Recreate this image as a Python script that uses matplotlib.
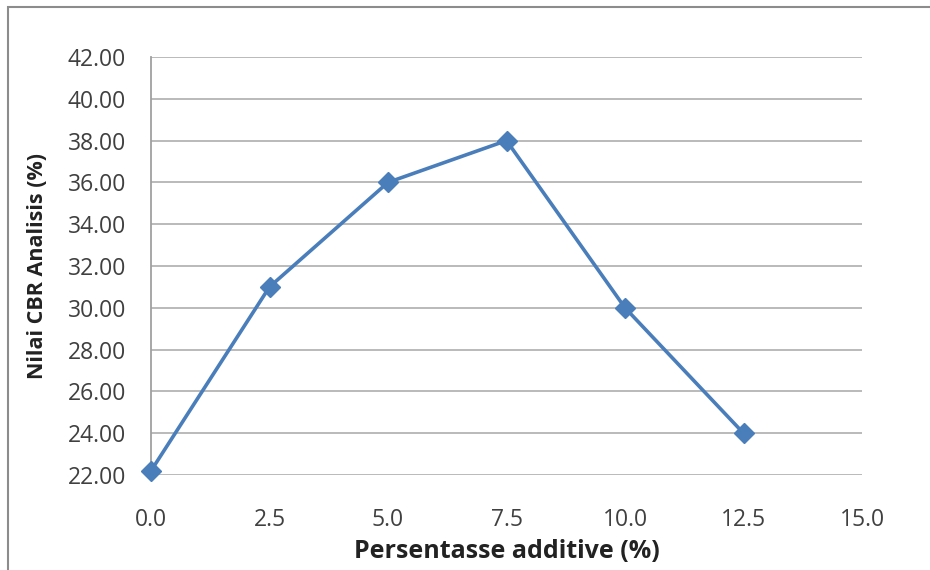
import matplotlib.pyplot as plt
from matplotlib.patches import Rectangle

# data
additive = [0.0, 2.5, 5.0, 7.5, 10.0, 12.5]
cbr = [22.2, 31.0, 36.0, 38.0, 30.0, 24.0]
x_ticks = [0.0, 2.5, 5.0, 7.5, 10.0, 12.5, 15.0]
y_ticks = [22, 24, 26, 28, 30, 32, 34, 36, 38, 40, 42]

plt.rcParams['font.family'] = ['Open Sans', 'DejaVu Sans']

fig = plt.figure(figsize=(9.3, 5.7), dpi=100)
ax = fig.add_axes([151 / 930, 95 / 570, 711 / 930, 418 / 570])

# outer chart border (Excel style)
fig.patches.append(Rectangle((8 / 930, -0.05), 1.0, 1.05 - 7 / 570,
                             transform=fig.transFigure, fill=False,
                             edgecolor='#8c8c8c', linewidth=1.5))

ax.plot(additive, cbr, color='#4a7ebb', linewidth=2.6, marker='D',
        markersize=10, zorder=3, clip_on=False)

ax.set_xlim(0, 15)
ax.set_ylim(22, 42)
ax.set_xticks(x_ticks)
ax.set_xticklabels([f'{v:.1f}' for v in x_ticks])
ax.set_yticks(y_ticks)
ax.set_yticklabels([f'{v:.2f}' for v in y_ticks])

ax.grid(axis='y', color='#b4b4b4', linewidth=1.3)
ax.set_axisbelow(True)
for s in ['top', 'right', 'bottom']:
    ax.spines[s].set_visible(False)
ax.spines['left'].set_color('#a0a0a0')
ax.spines['left'].set_linewidth(1.3)

ax.tick_params(axis='both', length=0, labelsize=16.5, labelcolor='#404040')
ax.tick_params(axis='x', pad=24)
ax.tick_params(axis='y', pad=18)

ax.set_xlabel('Persentasse additive (%)', fontsize=18, fontweight='bold',
              color='#222222', labelpad=5)
ax.set_ylabel('Nilai CBR Analisis (%)', fontsize=15.5, fontweight='bold',
              color='#222222', labelpad=14)

fig.savefig('out.png', dpi=100)
